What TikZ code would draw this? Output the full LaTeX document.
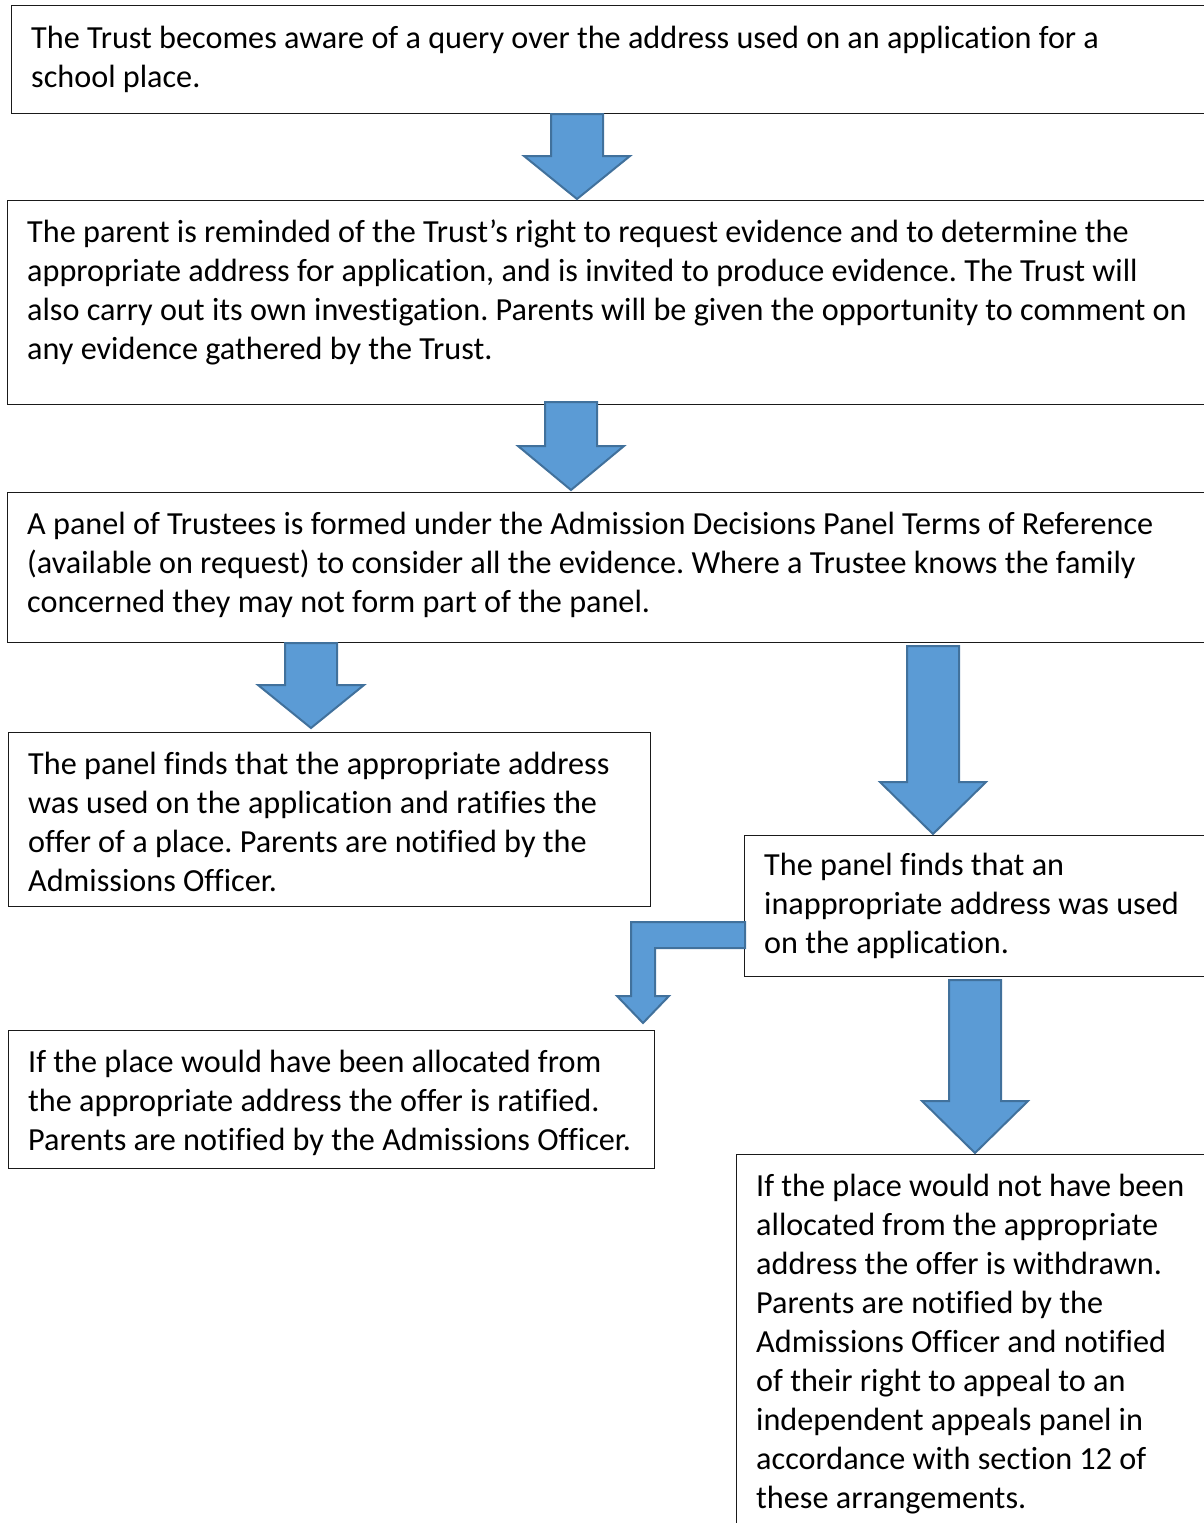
\documentclass[tikz,border=0pt]{standalone}
\usepackage{fontspec}
\setmainfont{Carlito}[Ligatures=NoCommon]
\usetikzlibrary{calc}
\definecolor{afill}{HTML}{5B9BD5}
\definecolor{aline}{HTML}{41719C}
\definecolor{bline}{HTML}{1A1A1A}
\frenchspacing
\begin{document}
\begin{tikzpicture}[x=1pt,y=-1pt,
  box/.style={draw=bline,line width=1.3pt,anchor=north west,inner sep=0pt,fill=none},
  txt/.style={anchor=north west,inner sep=0pt,align=left,
    font=\fontsize{32.2}{39}\selectfont},
  blk/.style={fill=afill,draw=aline,line width=2pt,line join=miter}]
\useasboundingbox (0,0) rectangle (1204,1523);
\clip (0,0) rectangle (1204,1523);
% boxes
\node[box,minimum width=1205pt,minimum height=108pt] (b1) at (11,5) {};
\node[box,minimum width=1210pt,minimum height=204pt] (b2) at (7,200) {};
\node[box,minimum width=1210pt,minimum height=150pt] (b3) at (7,492) {};
\node[box,minimum width=642pt,minimum height=174pt] (b4) at (8,732) {};
\node[box,minimum width=470pt,minimum height=141pt] (b5) at (744,835) {};
\node[box,minimum width=646pt,minimum height=138pt] (b6) at (8,1030) {};
\node[box,minimum width=480pt,minimum height=400pt] (b7) at (736,1154) {};
% texts
\node[txt] (t1) at (31,26) {The Trust becomes aware of a query over the address used on an application for a\\school place.};
\node[txt] (t2) at (27,220) {The parent is reminded of the Trust’s right to request evidence and to determine the\\appropriate address for application, and is invited to produce evidence. The Trust will\\also carry out its own investigation. Parents will be given the opportunity to comment on\\any evidence gathered by the Trust.};
\node[txt] (t3) at (27,512) {A panel of Trustees is formed under the Admission Decisions Panel Terms of Reference\\(available on request) to consider all the evidence. Where a Trustee knows the family\\concerned they may not form part of the panel.};
\node[txt] (t4) at (28,752) {The panel finds that the appropriate address\\was used on the application and ratifies the\\offer of a place. Parents are notified by the\\Admissions Officer.};
\node[txt] (t5) at (764,853) {The panel finds that an\\inappropriate address was used\\on the application.};
\node[txt] (t6) at (28,1050) {If the place would have been allocated from\\the appropriate address the offer is ratified.\\Parents are notified by the Admissions Officer.};
\node[txt] (t7) at (756,1174) {If the place would not have been\\allocated from the appropriate\\address the offer is withdrawn.\\Parents are notified by the\\Admissions Officer and notified\\of their right to appeal to an\\independent appeals panel in\\accordance with section 12 of\\these arrangements.};
% arrow end points
\coordinate (a1s) at (577,114);  \coordinate (a1t) at (577,199);
\coordinate (a2s) at (571,402);  \coordinate (a2t) at (571,490);
\coordinate (a3s) at (311,643);  \coordinate (a3t) at (311,728);
\coordinate (a4s) at (933,646);  \coordinate (a4t) at (933,834);
\coordinate (a6s) at (975,980);  \coordinate (a6t) at (975,1153);
\coordinate (a5s) at (745,935);  \coordinate (a5t) at (643,1023);
% straight block arrows: shaft half 26, head half 53
\path[blk] let \p1=(a1s), \p2=(a1t) in (\x1-26pt,\y1) -- (\x1+26pt,\y1) -- (\x1+26pt,\y2+43pt) -- (\x1+53pt,\y2+43pt) -- (\x2,\y2) -- (\x1-53pt,\y2+43pt) -- (\x1-26pt,\y2+43pt) -- cycle;
\path[blk] let \p1=(a2s), \p2=(a2t) in (\x1-26pt,\y1) -- (\x1+26pt,\y1) -- (\x1+26pt,\y2+44pt) -- (\x1+53pt,\y2+44pt) -- (\x2,\y2) -- (\x1-53pt,\y2+44pt) -- (\x1-26pt,\y2+44pt) -- cycle;
\path[blk] let \p1=(a3s), \p2=(a3t) in (\x1-26pt,\y1) -- (\x1+26pt,\y1) -- (\x1+26pt,\y2+43pt) -- (\x1+53pt,\y2+43pt) -- (\x2,\y2) -- (\x1-53pt,\y2+43pt) -- (\x1-26pt,\y2+43pt) -- cycle;
\path[blk] let \p1=(a4s), \p2=(a4t) in (\x1-26pt,\y1) -- (\x1+26pt,\y1) -- (\x1+26pt,\y2+52pt) -- (\x1+53pt,\y2+52pt) -- (\x2,\y2) -- (\x1-53pt,\y2+52pt) -- (\x1-26pt,\y2+52pt) -- cycle;
\path[blk] let \p1=(a6s), \p2=(a6t) in (\x1-26pt,\y1) -- (\x1+26pt,\y1) -- (\x1+26pt,\y2+52pt) -- (\x1+53pt,\y2+52pt) -- (\x2,\y2) -- (\x1-53pt,\y2+52pt) -- (\x1-26pt,\y2+52pt) -- cycle;
% bent arrow
\path[blk] let \p1=(a5s), \p2=(a5t) in (\x1,\y1+13pt) -- (\x2-12pt,\y1+13pt) -- (\x2-12pt,\y2+27pt) -- (\x2-26pt,\y2+27pt) -- (\x2,\y2) -- (\x2+26pt,\y2+27pt) -- (\x2+12pt,\y2+27pt) -- (\x2+12pt,\y1-13pt) -- (\x1,\y1-13pt) -- cycle;
\end{tikzpicture}
\end{document}
